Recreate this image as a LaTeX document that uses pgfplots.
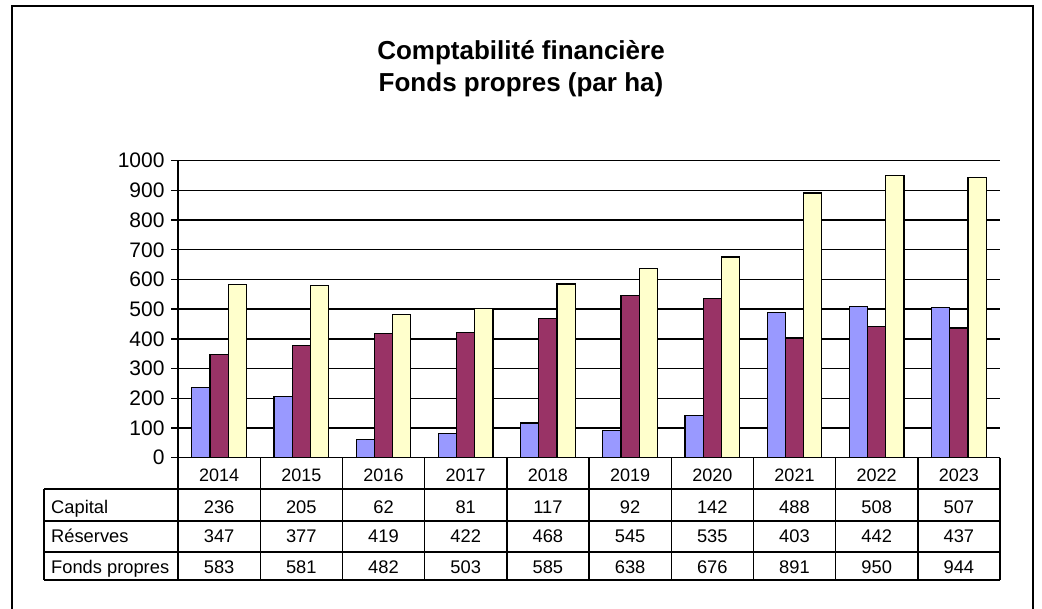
\documentclass[border=0pt]{standalone}
\usepackage{pgfplots}
\pgfplotsset{compat=1.18}
\usepackage{pgfplotstable}
\usepackage{fontspec}
\setmainfont{Liberation Sans}
\definecolor{capc}{HTML}{9999FF}
\definecolor{resc}{HTML}{993366}
\definecolor{fpc}{HTML}{FFFFCC}

\pgfplotstableread{
x year cap res fp
0 2014 236 347 583
1 2015 205 377 581
2 2016 62 419 482
3 2017 81 422 503
4 2018 117 468 585
5 2019 92 545 638
6 2020 142 535 676
7 2021 488 403 891
8 2022 508 442 950
9 2023 507 437 944
}\datatable

\begin{document}
\begin{tikzpicture}[x=1pt,y=1pt]
\useasboundingbox (0,0) rectangle (1042,609);
\fill[white] (0,0) rectangle (1042,609);
\draw[line width=1.3pt] (12,-5) -- (12,603) -- (1033,603) -- (1033,-5);
\node[font=\fontsize{26}{30}\selectfont\bfseries, anchor=base, inner sep=0pt] at (521,549) {Comptabilité financière};
\node[font=\fontsize{26}{30}\selectfont\bfseries, anchor=base, inner sep=0pt] at (521,517) {Fonds propres (par ha)};
\begin{axis}[at={(178pt,151.3pt)}, anchor=south west, scale only axis,
  width=822pt, height=297pt,
  xmin=-0.5, xmax=9.5, ymin=0, ymax=1000,
  ytick={0,100,...,1000},
  axis x line*=bottom, axis y line*=left,
  axis line style={black, line width=1.4pt},
  ymajorgrids, grid style={black, line width=1.4pt},
  xtick=data, xticklabels from table={\datatable}{year},
  xtick style={draw=none},
  ytick style={black, line width=1.4pt},
  tick align=outside, major tick length=7pt,
  yticklabel style={font=\fontsize{21}{25}\selectfont, xshift=-3pt},
  xticklabel style={font=\fontsize{18}{21}\selectfont, anchor=base, yshift=-17pt},
  /pgf/number format/assume math mode=true,
  /pgf/number format/1000 sep={},
  ybar=0pt, bar width=18.2pt,
]
\addplot[fill=capc, draw=black, line width=1.2pt] table[x=x,y=cap]{\datatable};
\addplot[fill=resc, draw=black, line width=1.2pt] table[x=x,y=res]{\datatable};
\addplot[fill=fpc, draw=black, line width=1.2pt] table[x=x,y=fp]{\datatable};
\end{axis}
% data table
\begin{scope}[line width=1.4pt]
\foreach \k in {0,...,10}{
  \draw ({178+82.2*\k},151.3) -- ({178+82.2*\k},29);
}
\draw (44,120) -- (1000,120);
\draw (44,88) -- (1000,88);
\draw (44,57) -- (1000,57);
\draw (44,29) -- (1000,29);
\draw (44,120) -- (44,29);
\end{scope}
\begin{scope}[every node/.style={font=\fontsize{18.3}{21}\selectfont, inner sep=0pt, anchor=base}]
\node[anchor=base west] at (51,95) {Capital};
\node[anchor=base west] at (51,66) {Réserves};
\node[anchor=base west] at (51,35) {Fonds propres};
\foreach \i in {0,...,9}{
  \pgfplotstablegetelem{\i}{cap}\of\datatable
  \node at ({178+82.2*(\i+0.5)},95) {\pgfplotsretval};
  \pgfplotstablegetelem{\i}{res}\of\datatable
  \node at ({178+82.2*(\i+0.5)},66) {\pgfplotsretval};
  \pgfplotstablegetelem{\i}{fp}\of\datatable
  \node at ({178+82.2*(\i+0.5)},35) {\pgfplotsretval};
}
\end{scope}
\end{tikzpicture}
\end{document}
